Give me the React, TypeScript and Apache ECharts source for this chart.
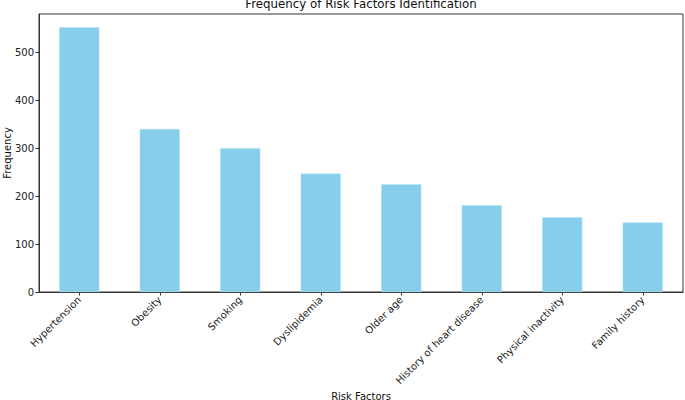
import React, { useEffect, useRef } from "react";
import * as echarts from "echarts";

const categories = [
  "Hypertension",
  "Obesity",
  "Smoking",
  "Dyslipidemia",
  "Older age",
  "History of heart disease",
  "Physical inactivity",
  "Family history",
];
const frequencies = [552, 340, 300, 247, 225, 181, 156, 145];
const yTicks = [0, 100, 200, 300, 400, 500];

const FONT = "DejaVu Sans";

export default function App() {
  const ref = useRef<HTMLDivElement>(null);
  useEffect(() => {
    if (!ref.current) return;
    const chart = echarts.init(ref.current, undefined, { renderer: "svg" });
    const yMax = Math.max(...frequencies) * 1.05;
    chart.setOption({
      animation: false,
      backgroundColor: "#ffffff",
      grid: {
        left: 39,
        right: 2,
        top: 14,
        bottom: 108,
        show: true,
        borderColor: "#333",
        borderWidth: 1,
        backgroundColor: "transparent",
      },
      xAxis: {
        type: "category",
        data: categories,
        boundaryGap: true,
        axisLine: { show: true, lineStyle: { color: "#333", width: 1 } },
        axisTick: { show: true, alignWithLabel: true, length: 3.5, lineStyle: { color: "#333" } },
        axisLabel: {
          rotate: 45,
          interval: 0,
          fontFamily: FONT,
          fontSize: 10,
          color: "#222",
          margin: 6,
        },
        splitLine: { show: false },
      },
      yAxis: {
        type: "value",
        min: 0,
        max: yMax,
        interval: 100,
        axisLine: { show: true, lineStyle: { color: "#333", width: 1 } },
        axisTick: { show: true, length: 3.5, lineStyle: { color: "#333" } },
        axisLabel: {
          fontFamily: FONT,
          fontSize: 10,
          color: "#222",
          margin: 5,
          showMaxLabel: false,
          formatter: (v: number) => (yTicks.includes(v) ? String(v) : ""),
        },
        splitLine: { show: false },
      },
      series: [
        {
          type: "bar",
          data: frequencies,
          barWidth: "50%",
          itemStyle: { color: "#87CEEB", borderColor: "#b5e2f3", borderWidth: 0.6 },
        },
      ],
      graphic: [
        {
          type: "text",
          x: 361,
          y: 4,
          style: {
            text: "Frequency of Risk Factors Identification",
            fontFamily: FONT,
            fontSize: 11.8,
            fill: "#111",
            textAlign: "center",
            textVerticalAlign: "middle",
          },
        },
        {
          type: "text",
          x: 7,
          y: 153,
          rotation: Math.PI / 2,
          style: {
            text: "Frequency",
            fontFamily: FONT,
            fontSize: 10,
            fill: "#111",
            textAlign: "center",
            textVerticalAlign: "middle",
          },
        },
        {
          type: "text",
          x: 361,
          y: 396,
          style: {
            text: "Risk Factors",
            fontFamily: FONT,
            fontSize: 10,
            fill: "#111",
            textAlign: "center",
            textVerticalAlign: "middle",
          },
        },
      ],
    });
    return () => chart.dispose();
  }, []);
  return (
    <div
      ref={ref}
      style={{ position: "fixed", left: 0, top: 0, width: 685, height: 400 }}
    />
  );
}
